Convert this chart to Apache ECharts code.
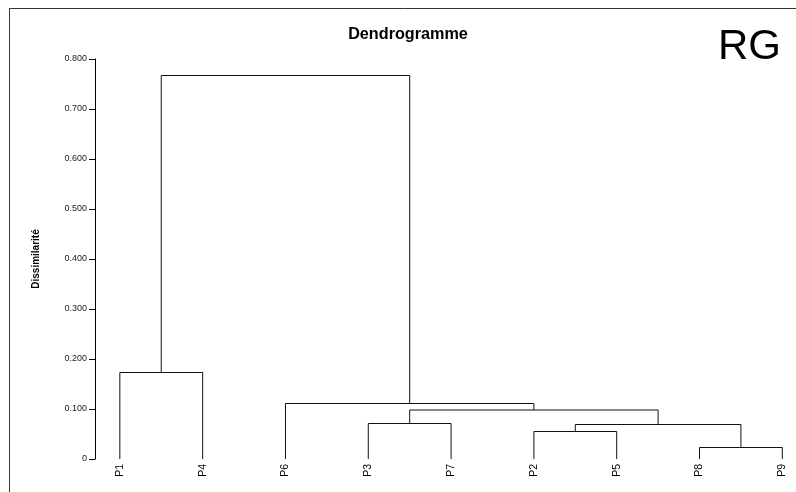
<!DOCTYPE html>
<html>
<head>
<meta charset="utf-8">
<script src="https://cdn.jsdelivr.net/npm/echarts@6/dist/echarts.min.js"></script>
<style>html,body{margin:0;padding:0;background:#fff}#c{width:796px;height:492px}</style>
</head>
<body>
<div id="c"></div>
<script>
// Leaves in display order
var leaves = ['P1', 'P4', 'P6', 'P3', 'P7', 'P2', 'P5', 'P8', 'P9'];
// Linkage: node ids 0..8 are leaves, merge k creates node 9+k
var mergeLeft   = [7, 5, 10, 3, 12, 2, 0, 15];
var mergeRight  = [8, 6, 9, 4, 11, 13, 1, 14];
var mergeHeight = [0.023, 0.055, 0.069, 0.071, 0.098, 0.111, 0.173, 0.767];
var yTicks = [0, 0.1, 0.2, 0.3, 0.4, 0.5, 0.6, 0.7, 0.8];

// node positions (x = leaf index / midpoint of children, y = merge height)
var nodeX = leaves.map(function (_, i) { return i; });
var nodeY = leaves.map(function () { return 0; });
var segs = [];
for (var k = 0; k < mergeHeight.length; k++) {
  var a = mergeLeft[k], b = mergeRight[k], h = mergeHeight[k];
  segs.push({ coords: [[nodeX[a], nodeY[a]], [nodeX[a], h], [nodeX[b], h], [nodeX[b], nodeY[b]]] });
  nodeX.push((nodeX[a] + nodeX[b]) / 2);
  nodeY.push(h);
}

var chart = echarts.init(document.getElementById('c'), null, { renderer: 'canvas' });
chart.setOption({
  backgroundColor: '#fff',
  animation: false,
  title: {
    text: 'Dendrogramme',
    left: 403, top: 22, textAlign: 'center',
    textStyle: { fontFamily: 'Liberation Sans, Arial', fontWeight: 'bold', fontSize: 16.2, color: '#000' }
  },
  graphic: [
    { type: 'rect', shape: { x: 9.5, y: 8.5, width: 900, height: 600 }, style: { fill: 'none', stroke: '#333', lineWidth: 1 }, silent: true },
    { type: 'text', left: 718, top: 26, style: { text: 'RG', font: '42px "Liberation Sans", Arial', fill: '#000' } }
  ],
  grid: { left: 95, right: 5.4, top: 59, bottom: 33, containLabel: false },
  xAxis: {
    type: 'value', min: -0.3, max: 8.1,
    axisLine: { show: false, onZero: false }, axisTick: { show: false }, splitLine: { show: false },
    axisLabel: {
      customValues: leaves.map(function (_, i) { return i; }),
      formatter: function (v) { return leaves[Math.round(v)]; },
      rotate: 90, margin: 5, fontSize: 10.5, color: '#000', fontFamily: 'Liberation Sans, Arial'
    }
  },
  yAxis: {
    type: 'value', min: 0, max: 0.8, interval: 0.1,
    name: 'Dissimilarité', nameLocation: 'middle', nameGap: 54, nameRotate: 90,
    nameTextStyle: { fontFamily: 'Liberation Sans, Arial', fontWeight: 'bold', fontSize: 10, color: '#000' },
    axisLine: { show: true, onZero: false, lineStyle: { color: '#000', width: 1 } },
    axisTick: { show: true, inside: false, length: 6, lineStyle: { color: '#000' } },
    splitLine: { show: false },
    axisLabel: {
      margin: 8, fontSize: 9, color: '#222', fontFamily: 'Liberation Sans, Arial',
      formatter: function (v) { return v === 0 ? '0' : v.toFixed(3); }
    }
  },
  series: [{
    type: 'lines', coordinateSystem: 'cartesian2d', polyline: true,
    data: segs, silent: true,
    lineStyle: { color: '#111', width: 1, opacity: 1 }
  }]
});
</script>
</body>
</html>
